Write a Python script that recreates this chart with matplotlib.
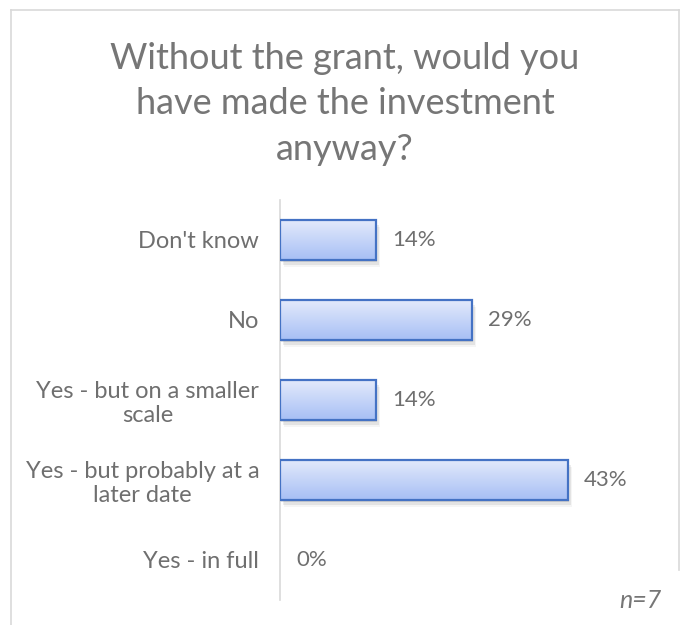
import numpy as np
import matplotlib
matplotlib.use('Agg')
import matplotlib.pyplot as plt
from matplotlib.patches import Rectangle
from matplotlib.lines import Line2D

plt.rcParams['font.family'] = ['Lato', 'DejaVu Sans']

# survey answers, bottom to top as drawn
answers = ['Yes - in full', 'Yes - but probably at a\nlater date',
           'Yes - but on a smaller\nscale', 'No', "Don't know"]
counts = [0, 3, 1, 2, 1]
n_resp = 7
shares = [c / n_resp for c in counts]

title = 'Without the grant, would you\nhave made the investment\nanyway?'
grey = '#767676'
label_grey = '#6f6f6f'

W, H = 687, 625
fig = plt.figure(figsize=(W / 100, H / 100), dpi=100)

# light frame round the chart area
frame = dict(color='#d9d9d9', lw=1.2)
fig.add_artist(Line2D([11 / W, 11 / W], [0, 1 - 10 / H], transform=fig.transFigure, **frame))
fig.add_artist(Line2D([11 / W, 679 / W], [1 - 10 / H, 1 - 10 / H], transform=fig.transFigure, **frame))
fig.add_artist(Line2D([679 / W, 679 / W], [1 - 10 / H, 1 - 570 / H], transform=fig.transFigure, **frame))

ax = fig.add_axes([280 / W, 1 - 600 / H, 370 / W, 400 / H])
ax.set_xlim(0, 370 / 672)
ax.set_ylim(-0.5, len(answers) - 0.5)

# vertical gradient used to fill every bar: light on top, deeper blue below
grad = np.linspace(0, 1, 64).reshape(-1, 1)
cmap = matplotlib.colors.LinearSegmentedColormap.from_list('bar', ['#e3eafb', '#a7bff5'])
bh = 0.5
for i, s in enumerate(shares):
    if s > 0:
        # soft drop shadow
        for k, a in enumerate([0.10, 0.07, 0.04]):
            ax.add_patch(Rectangle((0.002 * (k + 1), i - bh / 2 - 0.03 * (k + 1)), s, bh,
                                   facecolor='#000000', alpha=a, edgecolor='none', zorder=1))
        im = ax.imshow(grad, cmap=cmap, aspect='auto', origin='upper',
                       extent=(0, s, i - bh / 2, i + bh / 2), zorder=2)
        edge = Rectangle((0, i - bh / 2), s, bh, facecolor='none',
                         edgecolor='#4472c4', lw=1.6, zorder=3)
        ax.add_patch(edge)
        im.set_clip_path(edge)
    ax.text(s + 0.024, i, f'{round(s * 100)}%', va='center', ha='left',
            fontsize=16, color=label_grey)

ax.set_yticks(range(len(answers)))
ax.set_yticklabels(answers, fontsize=17, color=label_grey, ha='right',
                   multialignment='center', linespacing=1.2)
ax.tick_params(axis='y', length=0, pad=15)
ax.set_xticks([])
for side in ['top', 'right', 'bottom']:
    ax.spines[side].set_visible(False)
ax.spines['left'].set_color('#d9d9d9')
ax.spines['left'].set_linewidth(1.2)

fig.text(345 / W, 1 - 104 / H, title, ha='center', va='center', fontsize=26,
         color=grey, linespacing=1.45)
fig.text(662 / W, 1 - 601 / H, 'n=7', ha='right', va='center', fontsize=18,
         style='italic', color=grey)

fig.savefig('out.png', dpi=100)
